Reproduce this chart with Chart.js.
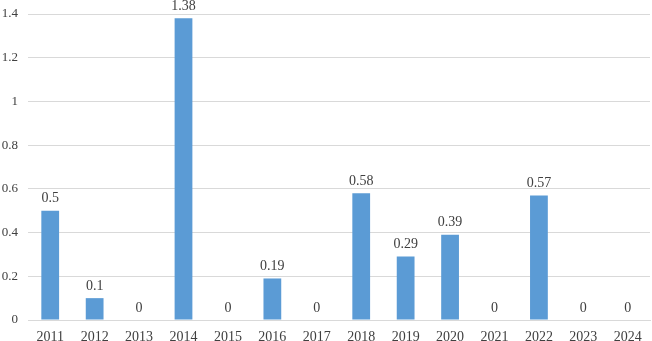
<!DOCTYPE html>
<html>
<head>
<meta charset="utf-8">
<script src="https://cdn.jsdelivr.net/npm/chart.js@4"></script>
<style>
  html, body { margin: 0; padding: 0; background: #fff; }
  #wrap { width: 652px; height: 341px; }
</style>
</head>
<body>
<div id="wrap"><canvas id="myChart"></canvas></div>
<script>
const years = ['2011','2012','2013','2014','2015','2016','2017','2018','2019','2020','2021','2022','2023','2024'];
const values = [0.5, 0.1, 0, 1.38, 0, 0.19, 0, 0.58, 0.29, 0.39, 0, 0.57, 0, 0];
const yTicks = [0, 0.2, 0.4, 0.6, 0.8, 1, 1.2, 1.4];

const serif = "'Liberation Serif', 'Times New Roman', serif";

// value labels above each bar
const barLabels = {
  id: 'barLabels',
  afterDatasetsDraw(chart) {
    const ctx = chart.ctx;
    const meta = chart.getDatasetMeta(0);
    ctx.save();
    ctx.font = '14px ' + serif;
    ctx.fillStyle = '#404040';
    ctx.textAlign = 'center';
    ctx.textBaseline = 'bottom';
    meta.data.forEach((bar, i) => {
      ctx.fillText(String(values[i]), bar.x, bar.y - 5);
    });
    ctx.restore();
  }
};

const ctx = document.getElementById('myChart').getContext('2d');
const myChart = new Chart(ctx, {
  type: 'bar',
  data: {
    labels: years,
    datasets: [{
      data: values,
      backgroundColor: '#5b9bd5',
      barPercentage: 0.4,
      categoryPercentage: 1
    }]
  },
  options: {
    responsive: true,
    maintainAspectRatio: false,
    animation: false,
    layout: { padding: { top: 14, right: 2, left: 0, bottom: 0 } },
    plugins: {
      legend: { display: false },
      tooltip: { enabled: false }
    },
    scales: {
      x: {
        grid: { display: false },
        border: { color: '#d9d9d9', width: 1 },
        ticks: { color: '#404040', font: { family: serif, size: 14 }, padding: 1, maxRotation: 0 },
        afterFit(scale) { scale.height = 21; }
      },
      y: {
        min: 0,
        max: 1.4,
        afterBuildTicks(scale) { scale.ticks = yTicks.map(v => ({ value: v })); },
        grid: { color: '#d9d9d9', lineWidth: 1, drawTicks: false },
        border: { display: false },
        ticks: {
          color: '#404040',
          font: { family: serif, size: 13 },
          padding: 10,
          callback: (v) => String(Math.round(v * 10) / 10)
        },
        afterFit(scale) {
          scale.width = 28;
          scale.paddingTop = 0;
        }
      }
    }
  },
  plugins: [barLabels]
});
</script>
</body>
</html>
